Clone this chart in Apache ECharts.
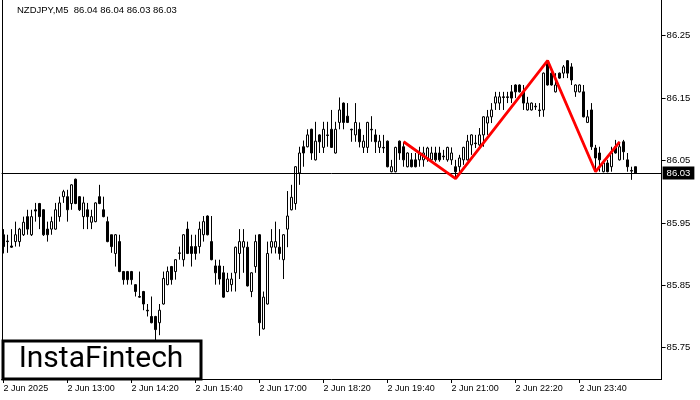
<!DOCTYPE html>
<html><head><meta charset="utf-8">
<script src="https://cdn.jsdelivr.net/npm/echarts@6/dist/echarts.min.js"></script>
<style>html,body{margin:0;padding:0;background:#fff}#c{width:700px;height:400px}</style>
</head><body><div id="c"></div><script>
const opens=[85.931,85.921,85.913,85.920,85.920,85.931,85.960,85.931,85.971,85.981,
85.971,85.940,85.940,85.940,85.960,85.992,85.992,85.981,86.020,85.992,
85.960,85.971,85.951,85.952,85.992,85.971,85.952,85.931,85.901,85.920,
85.872,85.872,85.872,85.851,85.832,85.840,85.810,85.800,85.800,85.790,
85.820,85.851,85.880,85.872,85.901,85.891,85.940,85.912,85.912,85.912,
85.931,85.961,85.920,85.881,85.881,85.870,85.840,85.851,85.870,85.901,
85.911,85.911,85.840,85.880,85.931,85.780,85.820,85.911,85.911,85.911,
85.891,85.940,85.971,85.981,86.030,86.072,86.072,86.100,86.051,86.091,
86.071,86.091,86.100,86.062,86.111,86.142,86.121,86.100,86.091,86.100,
86.071,86.071,86.100,86.091,86.071,86.071,86.081,86.032,86.032,86.081,
86.072,86.040,86.051,86.051,86.051,86.051,86.054,86.051,86.062,86.062,
86.057,86.051,86.051,86.040,86.040,86.051,86.051,86.075,86.078,86.075,
86.091,86.110,86.120,86.142,86.142,86.152,86.152,86.160,86.171,86.171,
86.160,86.131,86.131,86.137,86.131,86.131,86.206,86.190,86.160,86.190,
86.190,86.210,86.200,86.160,86.160,86.160,86.111,86.131,86.070,86.062,
86.032,86.046,86.040,86.072,86.051,86.080,86.051,86.034,86.040];
const closes=[85.912,85.920,85.911,85.931,85.940,85.951,85.940,85.960,85.969,85.960,
85.931,85.931,85.952,85.971,85.982,86.000,85.971,86.011,85.981,85.971,
85.982,85.960,85.960,85.982,85.981,85.960,85.920,85.912,85.931,85.872,
85.859,85.859,85.859,85.840,85.831,85.820,85.809,85.790,85.779,85.810,
85.861,85.872,85.859,85.891,85.902,85.931,85.901,85.901,85.901,85.940,
85.952,85.931,85.891,85.870,85.860,85.831,85.860,85.860,85.911,85.920,
85.920,85.849,85.870,85.920,85.790,85.831,85.901,85.920,85.920,85.901,
85.931,85.961,85.991,86.040,86.062,86.062,86.091,86.062,86.081,86.080,
86.100,86.090,86.071,86.100,86.131,86.111,86.111,86.099,86.111,86.080,
86.081,86.111,86.099,86.080,86.081,86.070,86.040,86.040,86.071,86.062,
86.051,86.062,86.040,86.040,86.062,86.062,86.070,86.062,86.051,86.051,
86.056,86.071,86.062,86.032,86.054,86.071,86.081,86.091,86.077,86.091,
86.120,86.120,86.131,86.152,86.152,86.151,86.151,86.150,86.160,86.160,
86.142,86.142,86.142,86.136,86.130,86.190,86.171,86.171,86.171,86.182,
86.200,86.190,86.179,86.171,86.171,86.120,86.120,86.072,86.054,86.051,
86.046,86.032,86.062,86.062,86.072,86.064,86.040,86.033,86.030];
const highs=[85.940,85.931,85.940,85.952,85.942,85.960,85.971,85.971,85.982,85.982,
85.972,85.952,85.960,85.982,85.992,86.003,86.003,86.012,86.021,85.993,
85.992,85.982,85.971,85.983,86.011,85.992,85.960,85.931,85.932,85.931,
85.873,85.873,85.873,85.852,85.872,85.841,85.820,85.832,85.801,85.820,
85.872,85.880,85.881,85.892,85.912,85.932,85.952,85.931,85.931,85.952,
85.961,85.962,85.961,85.891,85.891,85.881,85.870,85.870,85.912,85.940,
85.940,85.920,85.871,85.931,85.932,85.840,85.920,85.940,85.952,85.940,
85.932,86.001,86.011,86.041,86.072,86.082,86.100,86.101,86.112,86.092,
86.112,86.112,86.131,86.112,86.151,86.143,86.142,86.101,86.142,86.111,
86.091,86.112,86.121,86.100,86.091,86.091,86.082,86.051,86.072,86.082,
86.080,86.063,86.062,86.062,86.072,86.072,86.072,86.072,86.072,86.072,
86.067,86.072,86.071,86.051,86.059,86.072,86.091,86.092,86.091,86.102,
86.121,86.131,86.142,86.160,86.160,86.160,86.160,86.171,86.172,86.172,
86.171,86.152,86.143,86.142,86.142,86.191,86.210,86.198,86.190,86.191,
86.203,86.211,86.206,86.172,86.172,86.171,86.131,86.142,86.075,86.072,
86.051,86.051,86.072,86.083,86.080,86.083,86.062,86.040,86.040];
const lows=[85.901,85.902,85.910,85.912,85.912,85.929,85.931,85.929,85.952,85.940,
85.929,85.920,85.931,85.939,85.952,85.982,85.952,85.971,85.980,85.969,
85.940,85.940,85.940,85.951,85.980,85.959,85.919,85.902,85.880,85.871,
85.851,85.851,85.851,85.832,85.830,85.810,85.800,85.789,85.762,85.770,
85.819,85.850,85.851,85.859,85.891,85.880,85.900,85.880,85.891,85.901,
85.920,85.930,85.890,85.851,85.851,85.830,85.839,85.840,85.840,85.860,
85.870,85.848,85.831,85.870,85.769,85.779,85.819,85.901,85.901,85.891,
85.860,85.911,85.970,85.971,86.011,86.040,86.071,86.051,86.050,86.062,
86.062,86.072,86.070,86.061,86.100,86.100,86.110,86.080,86.080,86.071,
86.062,86.062,86.080,86.062,86.062,86.062,86.039,86.031,86.031,86.051,
86.040,86.039,86.039,86.039,86.040,86.040,86.048,86.048,86.048,86.048,
86.051,86.048,86.043,86.021,86.029,86.043,86.050,86.059,86.070,86.072,
86.072,86.091,86.110,86.131,86.131,86.131,86.142,86.142,86.150,86.159,
86.131,86.130,86.130,86.131,86.120,86.120,86.170,86.170,86.159,86.181,
86.182,86.182,86.171,86.152,86.159,86.119,86.110,86.067,86.032,86.032,
86.031,86.031,86.032,86.061,86.050,86.051,86.032,86.019,86.030];
const tickLabels=['2 Jun 2025','2 Jun 13:00','2 Jun 14:20','2 Jun 15:40','2 Jun 17:00','2 Jun 18:20','2 Jun 19:40','2 Jun 21:00','2 Jun 22:20','2 Jun 23:40'];
const tickEvery=16;
const priceTicks=[85.75,85.85,85.95,86.05,86.15,86.25];
const lastPrice=86.03;
const headerText='NZDJPY,M5  86.04 86.04 86.03 86.03';
const patternIdx=[100,113,136,148,154];
const patternPrice=[86.080,86.021,86.210,86.032,86.080];
const yMin=85.6998, yMax=86.3072;
const padBars=6;

const categories=[];
for(let i=0;i<opens.length+padBars;i++){
  const m=(11*60+40+5*i)%(24*60);
  categories.push(i<opens.length?String(Math.floor(m/60)).padStart(2,'0')+':'+String(m%60).padStart(2,'0'):'');
}
const candleData=opens.map((o,i)=>[o,closes[i],lows[i],highs[i]]);
const patternData=patternIdx.map((k,j)=>[k,patternPrice[j]]);
const showTick=(idx)=>idx%tickEvery===0 && idx<opens.length;
const font='Liberation Sans';

const chart=echarts.init(document.getElementById('c'),null,{renderer:'canvas'});
chart.setOption({
  animation:false,
  backgroundColor:'#fff',
  grid:{left:1.6,right:38.4,top:0,bottom:21,containLabel:false},
  xAxis:{
    type:'category',data:categories,boundaryGap:true,
    axisLine:{show:true,lineStyle:{color:'#000',width:1}},
    axisTick:{show:true,alignWithLabel:true,interval:(i)=>showTick(i),length:4,lineStyle:{color:'#000'}},
    axisLabel:{interval:(i)=>showTick(i),formatter:(v,i)=>tickLabels[i/tickEvery]||'',align:'left',margin:5,fontSize:9,fontFamily:font,color:'#000'},
    splitLine:{show:false}
  },
  yAxis:{
    type:'value',position:'right',min:yMin,max:yMax,scale:true,
    axisLine:{show:true,lineStyle:{color:'#000',width:1}},
    axisTick:{show:true,length:4,customValues:priceTicks,lineStyle:{color:'#000'}},
    axisLabel:{customValues:priceTicks,formatter:(v)=>v.toFixed(2),margin:5,fontSize:9.5,fontFamily:font,color:'#000'},
    splitLine:{show:false}
  },
  series:[
    {type:'candlestick',data:candleData,barWidth:3,
     itemStyle:{color:'#fff',color0:'#000',borderColor:'#000',borderColor0:'#000',borderWidth:1},
     markLine:{silent:true,symbol:['none','none'],animation:false,
       lineStyle:{color:'#000',width:1,type:'solid'},
       label:{show:true,position:'end',formatter:lastPrice.toFixed(2),backgroundColor:'#000',color:'#fff',padding:[2,4,1,4],fontSize:9.5,fontFamily:font,distance:1},
       emphasis:{disabled:true},
       data:[{yAxis:lastPrice}]}
    },
    {type:'line',data:patternData,symbol:'none',z:5,lineStyle:{color:'#ff0000',width:2.8},silent:true}
  ],
  graphic:[
    {type:'line',shape:{x1:2.5,y1:0,x2:2.5,y2:379},style:{stroke:'#000',lineWidth:1}},
    {type:'text',left:17,top:5,style:{text:headerText,font:'9.5px "Liberation Sans"',fill:'#000'}},
    {type:'rect',shape:{x:3,y:341,width:198,height:38},style:{fill:'#fff',stroke:'#000',lineWidth:3},z:10},
    {type:'text',x:101,y:359,z:11,style:{text:'InstaFintech',font:'30px Roboto',fill:'#000',textAlign:'center',textVerticalAlign:'middle'}}
  ]
});
</script></body></html>
